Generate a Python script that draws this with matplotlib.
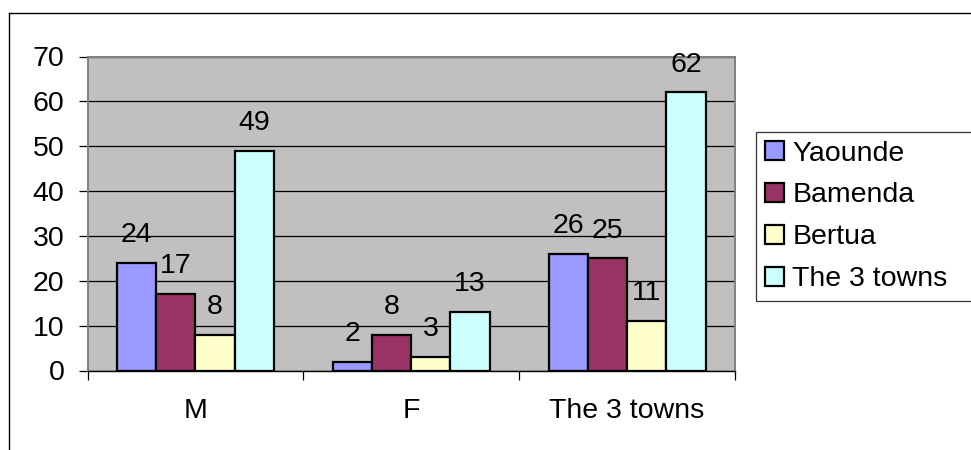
import numpy as np
import matplotlib
matplotlib.use("Agg")
import matplotlib.pyplot as plt
from matplotlib.lines import Line2D

# data
categories = ["M", "F", "The 3 towns"]
series_names = ["Yaounde", "Bamenda", "Bertua", "The 3 towns"]
yaounde = [24, 2, 26]
bamenda = [17, 8, 25]
bertua = [8, 3, 11]
three_towns = [49, 13, 62]
colors = ["#9999FF", "#993366", "#FFFFCC", "#CCFFFF"]
y_ticks = [0, 10, 20, 30, 40, 50, 60, 70]

plt.rcParams['font.family'] = ['Liberation Sans', 'DejaVu Sans']
FS = 20.5

W, H = 971, 450
fig = plt.figure(figsize=(W / 100, H / 100), dpi=100)
fig.patch.set_facecolor("white")

# outer chart-area border (only left and top are visible)
fig.add_artist(Line2D([8.5 / W, 8.5 / W], [0, 1 - 12.5 / H], transform=fig.transFigure,
                      color="black", lw=1.0))
fig.add_artist(Line2D([8.5 / W, 1], [1 - 12.5 / H, 1 - 12.5 / H], transform=fig.transFigure,
                      color="black", lw=1.0))

left, right, top, bottom = 87.5, 735, 56.5, 370.5
ax = fig.add_axes([left / W, 1 - bottom / H, (right - left) / W, (bottom - top) / H])
ax.set_facecolor("#C0C0C0")

x = np.arange(len(categories))
n = len(series_names)
width = 1 / (n + 1.5)
all_series = [yaounde, bamenda, bertua, three_towns]
for i, (name, vals, c) in enumerate(zip(series_names, all_series, colors)):
    pos = x + (i - (n - 1) / 2) * width
    ax.bar(pos, vals, width, color=c, edgecolor="black", linewidth=1.6,
           label=name, zorder=3)
    for px, v in zip(pos, vals):
        ax.annotate(str(v), (px, v), xytext=(0, 15), textcoords="offset points",
                    ha="center", va="baseline", fontsize=FS, zorder=4,
                    annotation_clip=False)

ax.set_xlim(-0.5, len(categories) - 0.5)
ax.set_ylim(0, 70)
ax.set_yticks(y_ticks)
ax.set_yticklabels([str(t) for t in y_ticks], fontsize=FS)
ax.yaxis.grid(True, color="black", linewidth=0.9, zorder=1)
ax.set_axisbelow(True)

# category ticks at boundaries, labels at centres
ax.set_xticks(np.arange(len(categories) + 1) - 0.5)
ax.set_xticklabels([])
ax.set_xticks(x, minor=True)
ax.set_xticklabels(categories, minor=True, fontsize=FS)
ax.tick_params(axis="x", which="major", direction="out", length=6.5, width=0.9, color="black")
ax.tick_params(axis="x", which="minor", length=0, pad=20)
ax.tick_params(axis="y", direction="out", length=6.5, width=0.9, color="black", pad=10)

for s in ["left", "top", "right"]:
    ax.spines[s].set_color("#808080")
    ax.spines[s].set_linewidth(1.4)
ax.spines["bottom"].set_color("black")
ax.spines["bottom"].set_linewidth(1.0)

leg = fig.legend(loc="upper left", bbox_to_anchor=(756 / W, 1 - 132 / H, 230 / W, 0),
                 mode="expand", fontsize=FS, frameon=True, fancybox=False,
                 edgecolor="black", borderaxespad=0, handlelength=0.67,
                 handleheight=0.67, handletextpad=0.3, labelspacing=0.56,
                 borderpad=0.3)
leg.get_frame().set_linewidth(0.9)

fig.savefig("out.png", dpi=100)
